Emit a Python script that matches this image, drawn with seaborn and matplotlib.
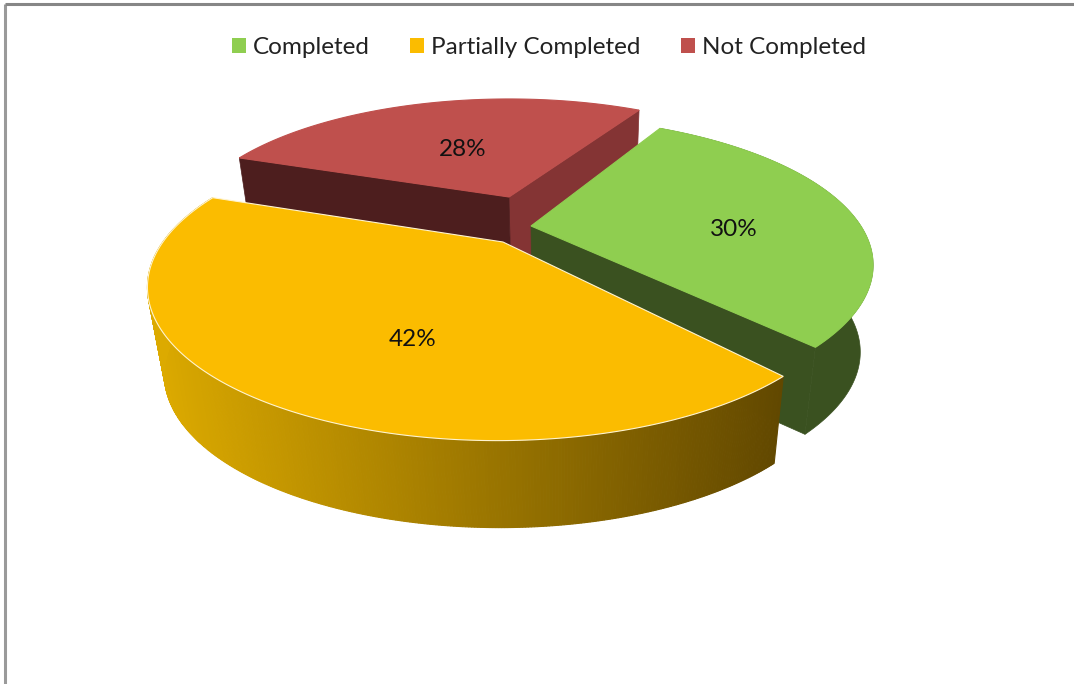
import numpy as np
import matplotlib
matplotlib.use("Agg")
import matplotlib.pyplot as plt
from matplotlib.patches import Patch
import seaborn as sns

categories = ["Completed", "Partially Completed", "Not Completed"]
shares = [30, 42, 28]
top_colors = ["#8fce50", "#fbbc00", "#bf504d"]
rim_colors = ["#3a5120", None, "#4d1e1e"]

# pixel layout of each exploded slice: apex x, apex y, half width, half depth
apex_x = [531, 503, 509]
apex_y = [226, 242, 197]
radius_x = [341, 336, 314]
radius_y = [139, 141, 125]
persp_y = [0.27, 0.29, 0.275]
persp_x = [0.034, 0.012, 0.0]
# small per slice turn, the original's perspective is not a clean plane
turn = [2.5, 0.0, 0.0]

start_angle = 59.2
depth = 87

sns.set_theme(style="white")
plt.rcParams["font.family"] = ["Lato", "DejaVu Sans"]


def project(i, deg, r=1.0):
    t = np.radians(deg + turn[i])
    px = r * np.cos(t)
    py = r * np.sin(t)
    w = 1 + persp_y[i] * py + persp_x[i] * px
    return apex_x[i] + radius_x[i] * px / w, apex_y[i] - radius_y[i] * py / w


def lower(x, y):
    return 0.959 * x + 23, y + depth


def wall(ax, i, deg, color):
    x0, y0 = project(i, deg, 0)
    x1, y1 = project(i, deg)
    xb0, yb0 = lower(x0, y0)
    xb1, yb1 = lower(x1, y1)
    ax.fill([x0, x1, xb1, xb0], [y0, y1, yb1, yb0], color=color, lw=0.5, zorder=i_order[i])


fig = plt.figure(figsize=(10.74, 6.84), dpi=100)
ax = fig.add_axes([0, 0, 1, 1])
ax.set_xlim(0, 1074)
ax.set_ylim(684, 0)
ax.axis("off")

# chart frame, only top and left show
ax.plot([5, 5], [684, 4], color="#9a9a9a", lw=2.2, solid_capstyle="butt")
ax.plot([5, 1074], [4, 4], color="#868686", lw=2.2, solid_capstyle="butt")

# angles go clockwise from the start angle
ends = start_angle - np.cumsum(shares) * 3.6
starts = np.r_[start_angle, ends[:-1]]

# back to front: red, green, yellow
i_order = {2: 1, 0: 2, 1: 3}

# the red slice only shows its two cut faces
wall(ax, 2, ends[2], "#843434")
wall(ax, 2, starts[2], rim_colors[2])

for i in [2, 0, 1]:
    th = np.linspace(starts[i], ends[i], 400)
    x, y = project(i, th)
    xb, yb = lower(x, y)
    if i == 1:
        grad = sns.blend_palette(["#dcaa00", "#9f7900", "#624800"], 256)
        lo, hi = x.min(), x.max()
        for j in range(len(th) - 1):
            c = grad[int((x[j] - lo) / (hi - lo) * 255)]
            ax.fill([x[j], x[j + 1], xb[j + 1], xb[j]], [y[j], y[j + 1], yb[j + 1], yb[j]],
                    color=c, lw=0.8, zorder=i_order[i])
    elif i == 0:
        ax.fill(np.r_[x, xb[::-1]], np.r_[y, yb[::-1]], color=rim_colors[i], lw=0.5, zorder=i_order[i])
        wall(ax, 0, ends[0], rim_colors[0])
    ax0, ay0 = project(i, 0, 0)
    edge = "#fff4d0" if i == 1 else top_colors[i]
    ax.fill(np.r_[ax0, x], np.r_[ay0, y], facecolor=top_colors[i], edgecolor=edge, lw=0.8, zorder=i_order[i] + 0.5)

label_x = [734, 413, 463]
label_y = [230, 340, 150]
for i, s in enumerate(shares):
    ax.text(label_x[i], label_y[i], f"{s}%", ha="center", va="center", fontsize=17.5, color="#111111", zorder=5)

handles = [Patch(facecolor=c, edgecolor="none") for c in top_colors]
ax.legend(handles, categories, loc="center", bbox_to_anchor=(549 / 1074, 1 - 47.5 / 684), ncol=3, frameon=False,
          fontsize=17.5, handlelength=0.57, handleheight=0.57, handletextpad=0.28, columnspacing=1.67,
          labelcolor="#222222")

fig.savefig("out.png", dpi=100)
